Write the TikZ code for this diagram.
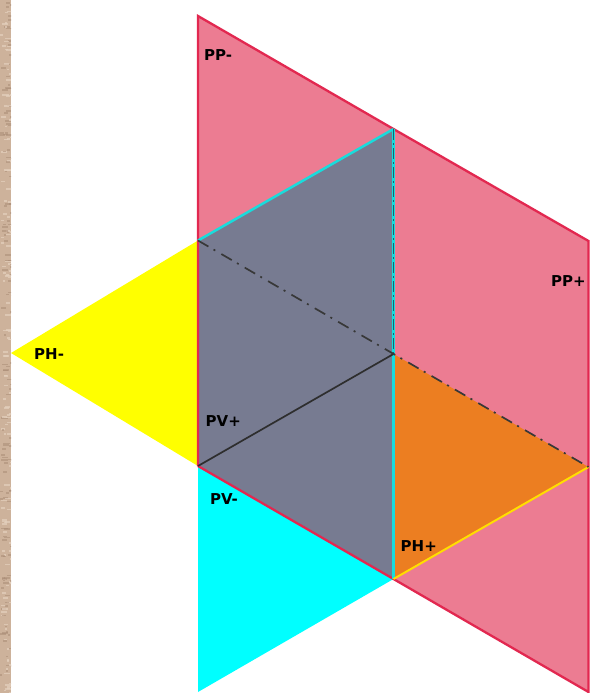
\documentclass[tikz,border=0pt]{standalone}
\usepackage{fontspec}
\setmainfont{DejaVu Sans}
\definecolor{pinkf}{RGB}{236,124,146}
\definecolor{pinkl}{RGB}{226,40,80}
\definecolor{greyf}{RGB}{119,123,145}
\definecolor{orangef}{RGB}{236,126,33}
\definecolor{tanbase}{RGB}{205,178,155}
\definecolor{tandark}{RGB}{170,140,118}
\definecolor{tanlight}{RGB}{228,208,190}
\definecolor{cyanl}{RGB}{25,220,220}
\definecolor{cyanf}{RGB}{0,255,255}
\definecolor{yellowf}{RGB}{255,255,0}
\definecolor{yellowl}{RGB}{255,222,0}
\definecolor{dashteal}{RGB}{25,100,110}
\tikzset{
  plabel/.style={font=\bfseries\fontsize{15}{17}\selectfont,text=black,inner sep=0pt},
  redline/.style={draw=pinkl,line width=2.3pt,line join=miter},
  dashdot/.style={draw=black!78,line width=1.7pt,dash pattern=on 12pt off 6pt on 2pt off 7pt},
}
\begin{document}
\begin{tikzpicture}[x=1pt,y=-1pt]
\useasboundingbox (0,0) rectangle (591,693);
\fill[white] (0,0) rectangle (591,693);
\fill[tanbase] (0,0) rectangle (11,693);
\begin{scope}
\clip (0,0) rectangle (11,693);
\pgfmathsetseed{7}
\foreach \i in {1,...,260}{
  \pgfmathsetmacro{\px}{rnd*11}
  \pgfmathsetmacro{\py}{rnd*693}
  \pgfmathsetmacro{\pw}{2+rnd*5}
  \pgfmathsetmacro{\pc}{rnd>0.5 ? 1 : 0}
  \ifdim\pc pt>0.5pt
    \fill[tandark,opacity=.55] (\px,\py) rectangle ++(\pw,1.6);
  \else
    \fill[tanlight,opacity=.7] (\px,\py) rectangle ++(\pw,1.6);
  \fi
}
\end{scope}
\coordinate (top) at (198,16);
\coordinate (cU) at (393.5,129);
\coordinate (r1) at (588.5,241);
\coordinate (r2) at (588.5,692);
\coordinate (b) at (393.5,579);
\coordinate (l) at (198,466);
\coordinate (lu) at (198,240.5);
\coordinate (c) at (393.5,354);
\coordinate (rm) at (588.5,467);
\coordinate (w) at (11,353);
\coordinate (bot) at (198,692);
% planes
\fill[pinkf] (top) -- (cU) -- (r1) -- (r2) -- (b) -- (l) -- cycle;
\fill[yellowf] (w) -- (lu) -- (l) -- cycle;
\fill[cyanf] (l) -- (b) -- (bot) -- cycle;
\fill[greyf] (lu) -- (cU) -- (b) -- (l) -- cycle;
\fill[orangef] (c) -- (rm) -- (b) -- cycle;
% edges
\draw[redline] (l) -- (top) -- (cU) -- (r1) -- (r2) -- (b) -- (l);
\draw[cyanl,line width=2.5pt] (lu) -- (cU);
\draw[cyanl,line width=2.5pt] (cU) -- (b);
\draw[draw=dashteal,line width=1.8pt,dash pattern=on 11pt off 3pt on 2pt off 3pt] (cU) -- (c);
\draw[yellowl,line width=2pt] (b) -- (rm);
\draw[black!82,line width=1.7pt] (l) -- (c);
\draw[dashdot] (lu) -- (rm);
% labels
\node[plabel,anchor=west] (ppm) at (204,55.5) {PP-};
\node[plabel,anchor=west] (ppp) at (551,281) {PP+};
\node[plabel,anchor=west] (phm) at (34,354.5) {PH-};
\node[plabel,anchor=west] (pvp) at (205.5,421) {PV+};
\node[plabel,anchor=west] (pvm) at (210,499.5) {PV-};
\node[plabel,anchor=west] (php) at (400.5,546.5) {PH+};
\end{tikzpicture}
\end{document}
